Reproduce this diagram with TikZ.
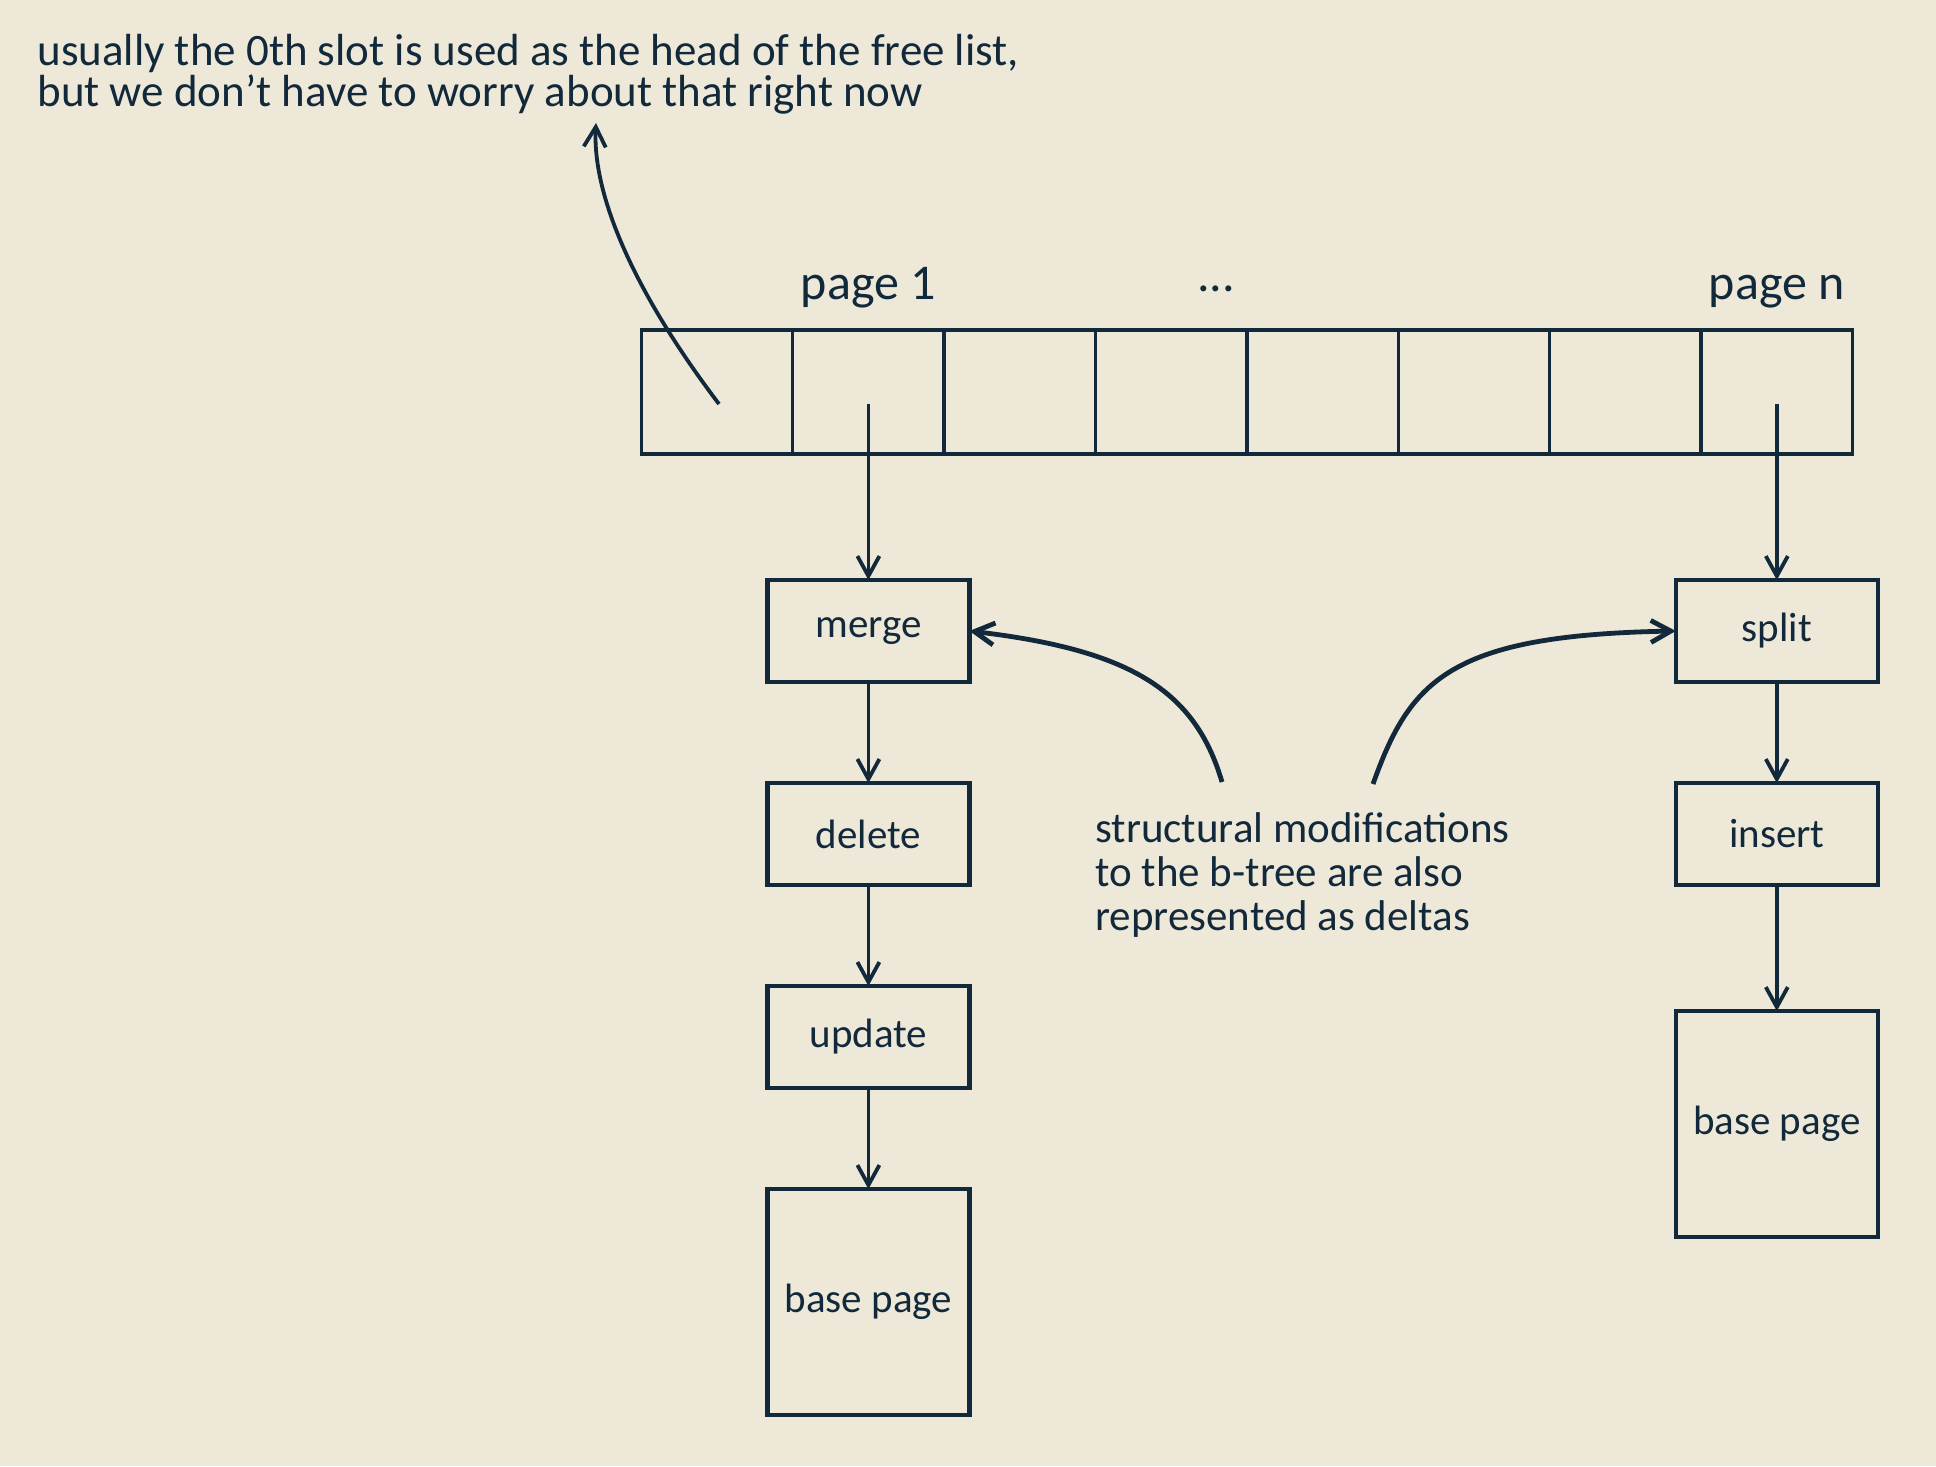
\documentclass[tikz,border=0pt]{standalone}
\usepackage{fontspec}
\setmainfont{Carlito}
\usetikzlibrary{positioning, calc, arrows.meta}
\definecolor{paper}{HTML}{EEE8D8}
\definecolor{ink}{HTML}{11293A}
\tikzstyle{slot} = [rectangle, draw=ink, line width=1.7pt, minimum width=75.7pt, minimum height=62pt, inner sep=0pt, outer sep=0pt]
\tikzstyle{deltabox} = [rectangle, draw=ink, line width=2.2pt, minimum width=101pt, minimum height=51pt, outer sep=0pt, text centered, text=ink, font=\fontsize{20.5}{22}\selectfont]
\tikzstyle{basebox} = [deltabox, minimum height=113pt]
\tikzstyle{notetext} = [align=left, inner sep=0pt, text=ink, font=\fontsize{21.5}{22}\selectfont]
\tikzstyle{pagetext} = [notetext, font=\fontsize{25}{28}\selectfont]
\tikzstyle{myarrow} = [->, >={Straight Barb[length=10pt, width=11pt]}, draw=ink, line width=1.9pt]

\begin{document}
\begin{tikzpicture}[x=0.5pt, y=-0.5pt, node distance=50.5pt]
\path[fill=paper, use as bounding box] (0,0) rectangle (1936,1466);
\node(slot0)[slot] at (717,392) {};
\node(slot1)[slot, right=0pt of slot0] {};
\node(slot2)[slot, right=0pt of slot1] {};
\node(slot3)[slot, right=0pt of slot2] {};
\node(slot4)[slot, right=0pt of slot3] {};
\node(slot5)[slot, right=0pt of slot4] {};
\node(slot6)[slot, right=0pt of slot5] {};
\node(slot7)[slot, right=0pt of slot6] {};
\node(pg1)[pagetext, above=11pt of slot1] {page 1};
\node(dots)[pagetext, anchor=base] at (1216,292) {...};
\node(pgn)[pagetext, above=11pt of slot7] {page n};

\node(merge)[deltabox, below=63pt of slot1] {merge};
\node(delete)[deltabox, below=of merge] {delete};
\node(update)[deltabox, below=of delete] {update};
\node(base1)[basebox, below=of update] {base page};
\node(split)[deltabox, below=63pt of slot7] {split};
\node(insert)[deltabox, below=of split] {insert};
\node(basen)[basebox, below=63pt of insert] {base page};

\node(freenote)[notetext, anchor=north west, font=\fontsize{22.5}{20.5}\selectfont] at (37,34) {usually the 0th slot is used as the head of the free list,\\but we don’t have to worry about that right now};
\node(smnote)[notetext, anchor=north west] at (1095,812) {structural modifications\\to the b-tree are also\\represented as deltas};

\coordinate(head0) at ([shift={(2,12)}]slot0.center);
\coordinate(ptr1) at ([shift={(0,12)}]slot1.center);
\coordinate(ptrn) at ([shift={(0,12)}]slot7.center);
\coordinate(freetip) at (596,123);
\coordinate(smL) at (1222,782);
\coordinate(smR) at (1373,784);

\draw [myarrow] (head0) .. controls (640,300) and (592,200) .. (freetip);
\draw [myarrow] (ptr1) -- (merge);
\draw [myarrow] (merge) -- (delete);
\draw [myarrow] (delete) -- (update);
\draw [myarrow] (update) -- (base1);
\draw [myarrow] (ptrn) -- (split);
\draw [myarrow] (split) -- (insert);
\draw [myarrow] (insert) -- (basen);
\draw [myarrow, line width=2.4pt] (smL) .. controls (1195,690) and (1130,650) .. (merge.east);
\draw [myarrow, line width=2.4pt] (smR) .. controls (1410,680) and (1450,635) .. (split.west);
\end{tikzpicture}
\end{document}
